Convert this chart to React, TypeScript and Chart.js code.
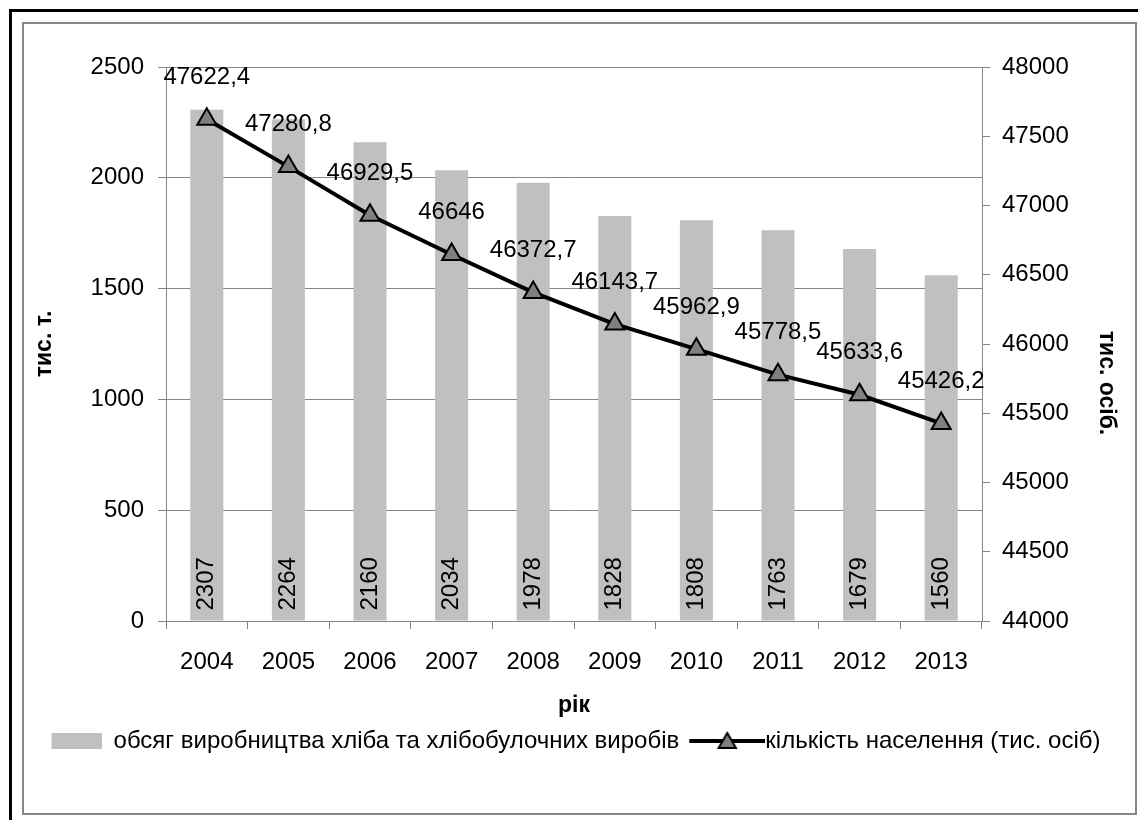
import React, { useEffect, useRef } from "react";
import { Chart, registerables } from "chart.js";

Chart.register(...registerables);

const years = ["2004", "2005", "2006", "2007", "2008", "2009", "2010", "2011", "2012", "2013"];
const breadOutput = [2307, 2264, 2160, 2034, 1978, 1828, 1808, 1763, 1679, 1560];
const population = [47622.4, 47280.8, 46929.5, 46646, 46372.7, 46143.7, 45962.9, 45778.5, 45633.6, 45426.2];

const leftMin = 0;
const leftMax = 2500;
const leftStep = 500;
const rightMin = 44000;
const rightMax = 48000;
const rightStep = 500;

const barLabel = "обсяг виробництва хліба та хлібобулочних виробів";
const lineLabel = "кількість населення (тис. осіб)";
const xTitle = "рік";
const leftTitle = "тис. т.";
const rightTitle = "тис. осіб.";

const FONT = "'Liberation Sans', Arial, sans-serif";
const GRAY = "#868686";
const BAR = "#c0c0c0";
const MARK = "#808080";
const KEY_W = 64;

const fmt = (v: number) => String(v).replace(".", ",");

function makeBarKey(): HTMLCanvasElement {
  const c = document.createElement("canvas");
  c.width = KEY_W;
  c.height = 24;
  const g = c.getContext("2d")!;
  g.fillStyle = BAR;
  g.fillRect(KEY_W - 50, 4, 50, 16);
  return c;
}

function makeLineKey(): HTMLCanvasElement {
  const c = document.createElement("canvas");
  c.width = KEY_W + 24;
  c.height = 24;
  const g = c.getContext("2d")!;
  g.strokeStyle = "#000";
  g.lineWidth = 4;
  g.beginPath();
  g.moveTo(12, 12);
  g.lineTo(KEY_W + 24, 12);
  g.stroke();
  const r = 10;
  const cx = 12 + (KEY_W + 12) / 2;
  const cy = 14;
  g.beginPath();
  g.moveTo(cx, cy - r);
  g.lineTo(cx + r * 0.866, cy + r * 0.5);
  g.lineTo(cx - r * 0.866, cy + r * 0.5);
  g.closePath();
  g.fillStyle = MARK;
  g.fill();
  g.lineWidth = 2;
  g.stroke();
  return c;
}

const framePlugin = {
  id: "frame",
  beforeDraw(chart: any) {
    const ctx = chart.ctx;
    ctx.save();
    ctx.fillStyle = "#fff";
    ctx.fillRect(0, 0, chart.width, chart.height);
    ctx.fillStyle = "#000";
    ctx.fillRect(9, 9, 3, chart.height - 9);
    ctx.fillRect(9, 9, chart.width - 9, 3);
    ctx.strokeStyle = GRAY;
    ctx.lineWidth = 2;
    ctx.strokeRect(23, 23, 1113, 791);
    ctx.restore();
  },
};

const labelPlugin = {
  id: "valueLabels",
  afterDatasetsDraw(chart: any) {
    const ctx = chart.ctx;
    ctx.save();
    ctx.fillStyle = "#000";
    ctx.font = `24px ${FONT}`;
    const barMeta = chart.getDatasetMeta(0);
    barMeta.data.forEach((el: any, i: number) => {
      ctx.save();
      ctx.translate(el.x, el.base - 10);
      ctx.rotate(-Math.PI / 2);
      ctx.textAlign = "left";
      ctx.textBaseline = "middle";
      ctx.fillText(String(breadOutput[i]), 0, 0);
      ctx.restore();
    });
    const lineMeta = chart.getDatasetMeta(1);
    ctx.textAlign = "center";
    ctx.textBaseline = "middle";
    lineMeta.data.forEach((el: any, i: number) => {
      ctx.fillText(fmt(population[i]), el.x, el.y - 42);
    });
    // right axis title
    const ca = chart.chartArea;
    ctx.save();
    ctx.font = `bold 23px ${FONT}`;
    ctx.translate(1106, (ca.top + ca.bottom) / 2 + 39);
    ctx.rotate(Math.PI / 2);
    ctx.textAlign = "center";
    ctx.textBaseline = "middle";
    ctx.fillText(rightTitle, 0, 0);
    ctx.restore();
    ctx.restore();
  },
};

export default function App() {
  const ref = useRef<HTMLCanvasElement | null>(null);

  useEffect(() => {
    if (!ref.current) return;
    const barKey = makeBarKey();
    const lineKey = makeLineKey();
    const chart = new Chart(ref.current, {
      type: "bar",
      data: {
        labels: years,
        datasets: [
          {
            type: "bar",
            label: barLabel,
            data: breadOutput,
            backgroundColor: BAR,
            borderWidth: 0,
            barPercentage: 0.405,
            categoryPercentage: 1,
            yAxisID: "y",
            order: 2,
          },
          {
            type: "line",
            label: lineLabel,
            data: population,
            borderColor: "#000",
            borderWidth: 4,
            pointStyle: "triangle",
            pointRadius: 11,
            pointBackgroundColor: MARK,
            pointBorderColor: "#000",
            pointBorderWidth: 2,
            tension: 0,
            yAxisID: "y1",
            order: 1,
          } as any,
        ],
      },
      options: {
        responsive: false,
        animation: false,
        devicePixelRatio: 1,
        layout: { padding: { left: 0, right: 0, top: 67, bottom: 57 } },
        plugins: {
          tooltip: { enabled: false },
          legend: {
            position: "bottom",
            labels: {
              color: "#000",
              font: { family: FONT, size: 24 },
              usePointStyle: true,
              pointStyleWidth: KEY_W,
              padding: 10,
              generateLabels: () => [
                {
                  text: barLabel,
                  pointStyle: barKey,
                  fillStyle: BAR,
                  strokeStyle: BAR,
                  lineWidth: 0,
                  hidden: false,
                  datasetIndex: 0,
                  fontColor: "#000",
                } as any,
                {
                  text: lineLabel,
                  pointStyle: lineKey,
                  fillStyle: MARK,
                  strokeStyle: "#000",
                  lineWidth: 2,
                  hidden: false,
                  datasetIndex: 1,
                  fontColor: "#000",
                } as any,
              ],
            },
          },
        },
        scales: {
          x: {
            offset: true,
            grid: { offset: true, drawOnChartArea: false, drawTicks: true, tickLength: 8, color: GRAY },
            border: { display: true, color: GRAY, width: 1 },
            ticks: {
              color: "#000",
              font: { family: FONT, size: 24 },
              padding: 19,
              autoSkip: false,
              maxRotation: 0,
            },
            title: {
              display: true,
              text: xTitle,
              color: "#000",
              font: { family: FONT, size: 23, weight: "bold", lineHeight: 1 },
              padding: { top: 0, bottom: 2 },
            },
            afterFit: (s: any) => {
              s.height = 98;
            },
          },
          y: {
            position: "left",
            min: leftMin,
            max: leftMax,
            grid: { color: GRAY, tickLength: 8, drawTicks: true },
            border: { display: true, color: GRAY, width: 1 },
            ticks: {
              stepSize: leftStep,
              color: "#000",
              font: { family: FONT, size: 24 },
              padding: 14,
              callback: (v: any) => String(v),
            },
            title: {
              display: true,
              text: leftTitle,
              color: "#000",
              font: { family: FONT, size: 23, weight: "bold", lineHeight: 1 },
              padding: { top: 33, bottom: 0 },
            },
            afterFit: (s: any) => {
              s.width = 166;
            },
          },
          y1: {
            position: "right",
            min: rightMin,
            max: rightMax,
            grid: { drawOnChartArea: false, color: GRAY, tickLength: 8, drawTicks: true },
            border: { display: true, color: GRAY, width: 1 },
            ticks: {
              stepSize: rightStep,
              color: "#000",
              font: { family: FONT, size: 24 },
              padding: 12,
              callback: (v: any) => String(v),
            },
            afterFit: (s: any) => {
              s.width = 156;
            },
          },
        },
      } as any,
      plugins: [framePlugin, labelPlugin],
    });
    return () => chart.destroy();
  }, []);

  return (
    <div style={{ position: "absolute", left: 0, top: 0, width: 1138, height: 820 }}>
      <canvas ref={ref} width={1138} height={820} style={{ display: "block", width: 1138, height: 820 }} />
    </div>
  );
}
